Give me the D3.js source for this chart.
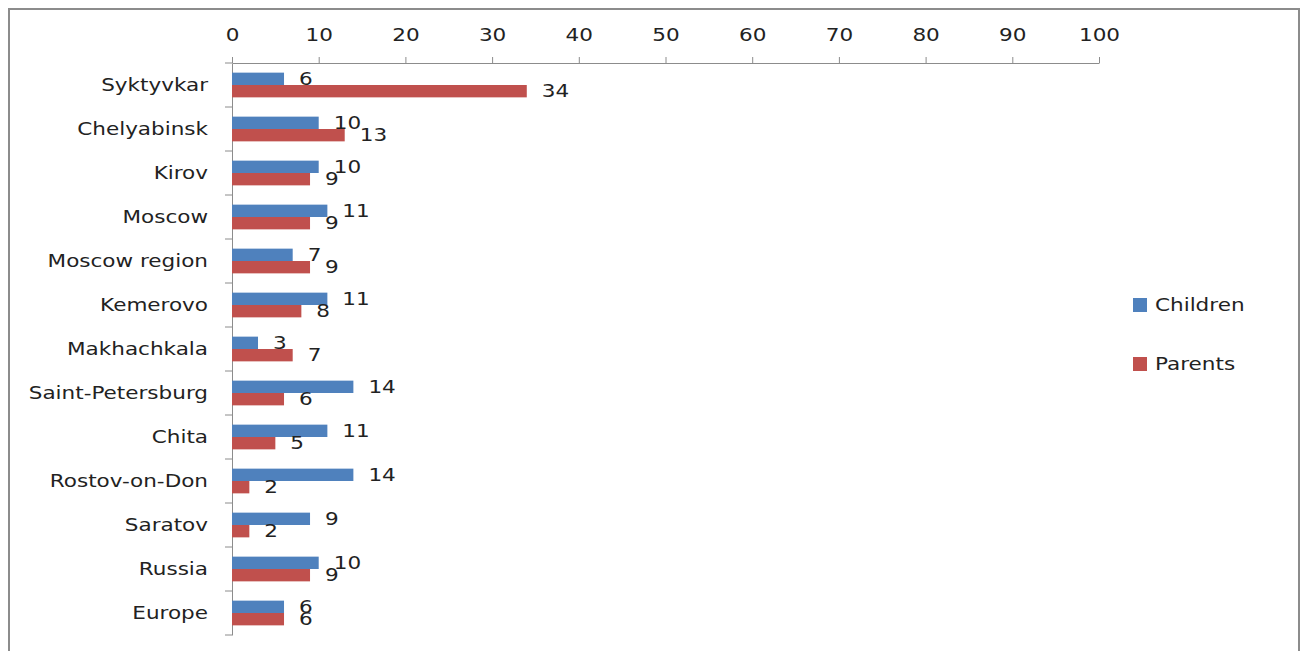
<!DOCTYPE html>
<html><head><meta charset="utf-8">
<script src="https://cdn.jsdelivr.net/npm/d3@7"></script>
<style>body{margin:0;background:#fff}svg{display:block}</style>
</head><body>
<script>
const categories = ["Syktyvkar","Chelyabinsk","Kirov","Moscow","Moscow region","Kemerovo","Makhachkala","Saint-Petersburg","Chita","Rostov-on-Don","Saratov","Russia","Europe"];
const children = [6,10,10,11,7,11,3,14,11,14,9,10,6];
const parents = [34,13,9,9,9,8,7,6,5,2,2,9,6];
const seriesNames = ["Children","Parents"];
const colors = ["#4F81BD","#C0504D"];
const xTicks = [0,10,20,30,40,50,60,70,80,90,100];

const W=1303,H=651;
const SX=1.23, FS=17.5;
const svg=d3.select("body").append("svg").attr("width",W).attr("height",H);
const font="'DejaVu Sans', sans-serif";
svg.append("rect").attr("x",9).attr("y",9).attr("width",1290).attr("height",660)
  .attr("fill","none").attr("stroke","#8c8c8c").attr("stroke-width",2);

const x=d3.scaleLinear().domain([0,100]).range([232,1099]);
const y=d3.scaleBand().domain(categories).range([63,635]);
const inner=d3.scaleBand().domain(seriesNames).range([0,y.bandwidth()]).paddingInner(0).paddingOuter(0.78);

// top axis
const gx=svg.append("g").attr("transform","translate(0,63)")
  .call(d3.axisTop(x).tickValues(xTicks).tickSize(6).tickPadding(16).tickSizeOuter(0));
gx.select(".domain").attr("stroke","#8c8c8c");
gx.selectAll(".tick line").attr("stroke","#8c8c8c");
gx.selectAll("text").attr("font-family",font).attr("font-size",FS).attr("fill","#222")
  .attr("transform",`scale(${SX},1)`);

// left axis
const gy=svg.append("g").attr("transform","translate(232,0)")
  .call(d3.axisLeft(y).tickSize(0).tickPadding(24));
gy.select(".domain").attr("stroke","#8c8c8c");
gy.selectAll("text").attr("font-family",font).attr("font-size",FS).attr("fill","#222")
  .attr("x",-24/SX).attr("transform",`scale(${SX},1)`);
const bounds=categories.map(c=>y(c)).concat([y.range()[1]]);
svg.append("g").selectAll("line").data(bounds).join("line")
  .attr("x1",225).attr("x2",232).attr("y1",d=>d).attr("y2",d=>d).attr("stroke","#8c8c8c");

const data=[children,parents];
data.forEach((vals,si)=>{
  const g=svg.append("g");
  g.selectAll("rect").data(vals).join("rect")
    .attr("x",x(0)).attr("y",(d,i)=>y(categories[i])+inner(seriesNames[si]))
    .attr("width",d=>x(d)-x(0)).attr("height",inner.bandwidth())
    .attr("fill",colors[si]);
  g.selectAll("text").data(vals).join("text")
    .attr("transform",(d,i)=>`translate(${x(d)+15},${y(categories[i])+inner(seriesNames[si])+inner.bandwidth()/2}) scale(${SX},1)`)
    .attr("dy","0.35em").attr("font-family",font).attr("font-size",FS).attr("fill","#222")
    .text(d=>d);
});

// legend
const lg=svg.append("g");
seriesNames.forEach((s,i)=>{
  const yy=305+i*59;
  lg.append("rect").attr("x",1133).attr("y",yy-7).attr("width",14).attr("height",14).attr("fill",colors[i]);
  lg.append("text").attr("transform",`translate(1155,${yy}) scale(${SX},1)`).attr("dy","0.35em").attr("font-family",font)
    .attr("font-size",FS).attr("fill","#222").text(s);
});
</script>
</body></html>
